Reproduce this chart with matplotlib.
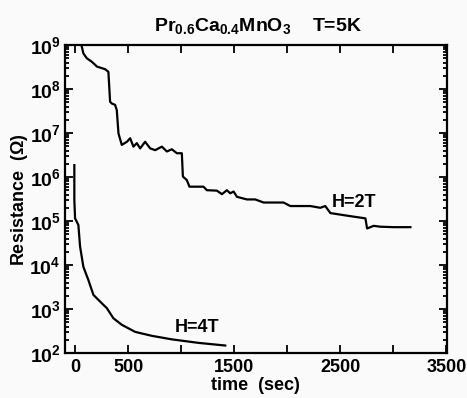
import numpy as np
import matplotlib
matplotlib.use("Agg")
import matplotlib.pyplot as plt
from matplotlib.ticker import LogLocator, NullFormatter

plt.rcParams['font.family'] = ['Liberation Sans Narrow', 'Liberation Sans', 'DejaVu Sans']
plt.rcParams['font.weight'] = 'bold'
plt.rcParams['mathtext.fontset'] = 'custom'
plt.rcParams['mathtext.rm'] = 'Liberation Sans:bold'
plt.rcParams['mathtext.it'] = 'Liberation Sans:bold'
plt.rcParams['mathtext.bf'] = 'Liberation Sans:bold'

# H=2T series (time in s, log10 resistance)
t_2T = [55, 78, 110, 157, 189, 205, 283, 314, 330, 346, 377, 393, 409, 440, 488, 519,
        550, 582, 613, 660, 708, 755, 818, 865, 912, 959, 1006, 1016, 1053, 1078, 1210,
        1242, 1336, 1384, 1431, 1462, 1494, 1525, 1619, 1698, 1777, 1965, 2028, 2217,
        2311, 2358, 2406, 2594, 2736, 2752, 2814, 2877, 3003, 3160]
logR_2T = [9.05, 8.81, 8.70, 8.62, 8.55, 8.51, 8.45, 8.39, 7.71, 7.67, 7.64, 7.52, 6.99,
           6.73, 6.80, 6.88, 6.69, 6.77, 6.65, 6.80, 6.65, 6.61, 6.69, 6.58, 6.63, 6.54,
           6.54, 6.01, 5.93, 5.78, 5.78, 5.70, 5.69, 5.61, 5.70, 5.63, 5.67, 5.55, 5.49,
           5.49, 5.42, 5.42, 5.34, 5.34, 5.30, 5.34, 5.18, 5.11, 5.06, 4.83, 4.89, 4.87,
           4.86, 4.86]

# H=4T series
t_4T = [-7, -7, 0, 31, 47, 78, 125, 173, 252, 299, 361, 441, 566, 724, 912, 1163, 1415]
logR_4T = [6.27, 5.48, 5.06, 4.91, 4.42, 3.96, 3.66, 3.32, 3.13, 3.02, 2.79, 2.64, 2.48,
           2.39, 2.31, 2.23, 2.17]

x_ticks = [0, 500, 1000, 1500, 2000, 2500, 3000, 3500]
x_labels = ['0', '500', '', '1500', '', '2500', '', '3500']
y_ticks = [1e2, 1e3, 1e4, 1e5, 1e6, 1e7, 1e8, 1e9]
y_labels = [r'$10^{%d}$' % k for k in range(2, 10)]

fig = plt.figure(figsize=(4.67, 3.98), dpi=100)
fig.patch.set_facecolor('#fafafa')
ax = fig.add_axes([65/467, 1-353/398, (447-65)/467, (353-45)/398])
ax.set_facecolor('#fafafa')

ax.plot(t_2T, 10**np.array(logR_2T), color='black', lw=1.6)
ax.plot(t_4T, 10**np.array(logR_4T), color='black', lw=1.6)

ax.set_yscale('log')
ax.set_xlim(-95, 3505)
ax.set_ylim(1e2, 1e9)
ax.set_xticks(x_ticks)
ax.set_xticklabels(x_labels)
ax.set_yticks(y_ticks)
ax.set_yticklabels(y_labels)
ax.yaxis.set_minor_locator(LogLocator(base=10, subs=np.arange(2, 10)))
ax.yaxis.set_minor_formatter(NullFormatter())
ax.tick_params(which='both', direction='in', top=True, right=True, width=1.3)
ax.tick_params(which='major', length=6, labelsize=13, pad=4)
ax.tick_params(axis='y', which='major', labelsize=14, pad=3)
ax.tick_params(which='minor', length=3)
for s in ax.spines.values():
    s.set_linewidth(1.6)

ax.text(2632, 10**5.41, 'H=2T', ha='center', va='center', fontsize=13, fontweight='bold')
ax.text(1151, 10**2.59, 'H=4T', ha='center', va='center', fontsize=13, fontweight='bold')

fig.text(258/467, 1-26/398, r'Pr$_{0.6}$Ca$_{0.4}$MnO$_{3}$    T=5K', ha='center', va='center',
         fontsize=14, fontweight='bold')
ax.set_xlabel('time  (sec)', fontsize=13, fontweight='bold')
ax.set_ylabel(r'Resistance  ($\Omega$)', fontsize=13, fontweight='bold')
ax.xaxis.set_label_coords((255-65)/382, -(377-353)/308)
ax.yaxis.set_label_coords(-(65-30)/382, (353-200)/308)

fig.savefig('out.png', dpi=100, facecolor=fig.get_facecolor())
